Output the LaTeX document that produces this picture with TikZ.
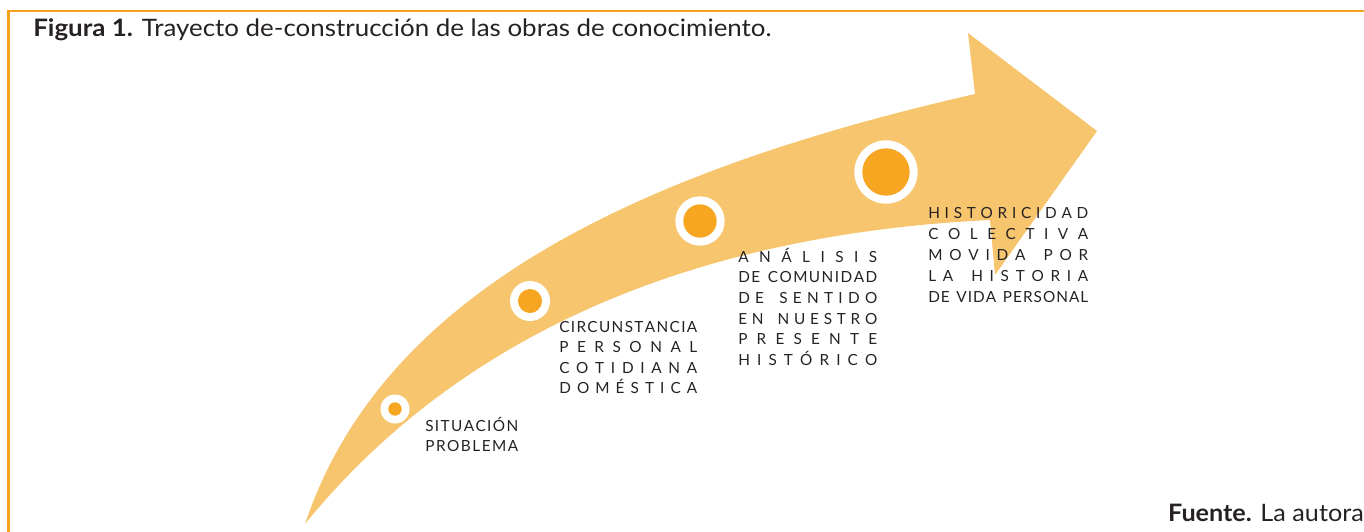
\documentclass[tikz,border=0pt]{standalone}
\usepackage{fontspec}
\setmainfont{Lato}
\definecolor{arrowfill}{HTML}{F6C56D}
\definecolor{dotfill}{HTML}{F6A620}
\definecolor{framecol}{HTML}{F7A21E}
\definecolor{inkcol}{HTML}{262223}
\makeatletter
\def\ls#1{\ls@first#1\relax}
\def\ls@first#1{#1\ls@loop}
\def\ls@loop#1{\ifx#1\relax\else\ifx#1|\hskip .3em plus 1fill\relax\else\hfill#1\fi\expandafter\ls@loop\fi}
\makeatother
\newcommand\lline[2]{\hbox to #1{\ls{#2}}}
\begin{document}
\begin{tikzpicture}[x=0.75pt,y=-0.75pt,
  frame/.style={draw=framecol,line width=2pt},
  ring/.style={circle,fill=white,inner sep=0pt,minimum size=#1},
  dot/.style={circle,fill=dotfill,inner sep=0pt,minimum size=#1},
  lbl/.style={anchor=base west,inner sep=0pt,text=inkcol,font=\fontsize{11.5}{15.4}\selectfont},
  captxt/.style={inner sep=0pt,text=inkcol,font=\fontsize{18}{20}\selectfont}]
\useasboundingbox (0,0) rectangle (1364,532);
% frame
\draw[frame] (8.7,533) |- (1365,11);
% arrow
\fill[arrowfill] (305,524) .. controls (380,300) and (620,175) .. (975,94)
  -- (968,33) -- (1097,131) -- (995,275) -- (990,220)
  .. controls (640,237) and (430,370) .. (305,524) -- cycle;
% circles
\node[ring=21.75pt] (r1) at (395,409) {};
\node[dot=10pt] (d1) at (r1.center) {};
\node[ring=30pt] (r2) at (530,301) {};
\node[dot=18pt] (d2) at (r2.center) {};
\node[ring=37pt] (r3) at (700,221) {};
\node[dot=25pt] (d3) at (r3.center) {};
\node[ring=47.5pt] (r4) at (886,172) {};
\node[dot=35.5pt] (d4) at (r4.center) {};
% labels
\node[lbl] (t1) at (425,431) {\vtop{\baselineskip=15.2pt
  \lline{69.75pt}{SITUACIÓN}
  \lline{69.75pt}{PROBLEMA}}};
\node[lbl] (t2) at (559,332) {\vtop{\baselineskip=15.4pt
  \lline{103.5pt}{CIRCUNSTANCIA}
  \lline{103.5pt}{PERSONAL}
  \lline{103.5pt}{COTIDIANA}
  \lline{103.5pt}{DOMÉSTICA}}};
\node[lbl] (t3) at (738,262) {\vtop{\baselineskip=15.5pt
  \lline{104.25pt}{ANÁLISIS}
  \lline{104.25pt}{DE|COMUNIDAD}
  \lline{104.25pt}{DE|SENTIDO}
  \lline{104.25pt}{EN|NUESTRO}
  \lline{104.25pt}{PRESENTE}
  \lline{104.25pt}{HISTÓRICO}}};
\node[lbl] (t4) at (928,218) {\vtop{\baselineskip=15.8pt
  \lline{120pt}{HISTORICIDAD}
  \lline{120pt}{COLECTIVA}
  \lline{120pt}{MOVIDA|POR}
  \lline{120pt}{LA|HISTORIA}
  \lline{120pt}{DE|VIDA|PERSONAL}}};
% caption and source
\node[captxt,anchor=base west] (caption) at (33,36) {\scalebox{1.08}[1]{\textbf{Figura 1.} Trayecto de-construcción de las obras de conocimiento.}};
\node[captxt,anchor=base east] (source) at (1364,521) {\scalebox{1.05}[1]{\textbf{Fuente.} La autora}};
\end{tikzpicture}
\end{document}
